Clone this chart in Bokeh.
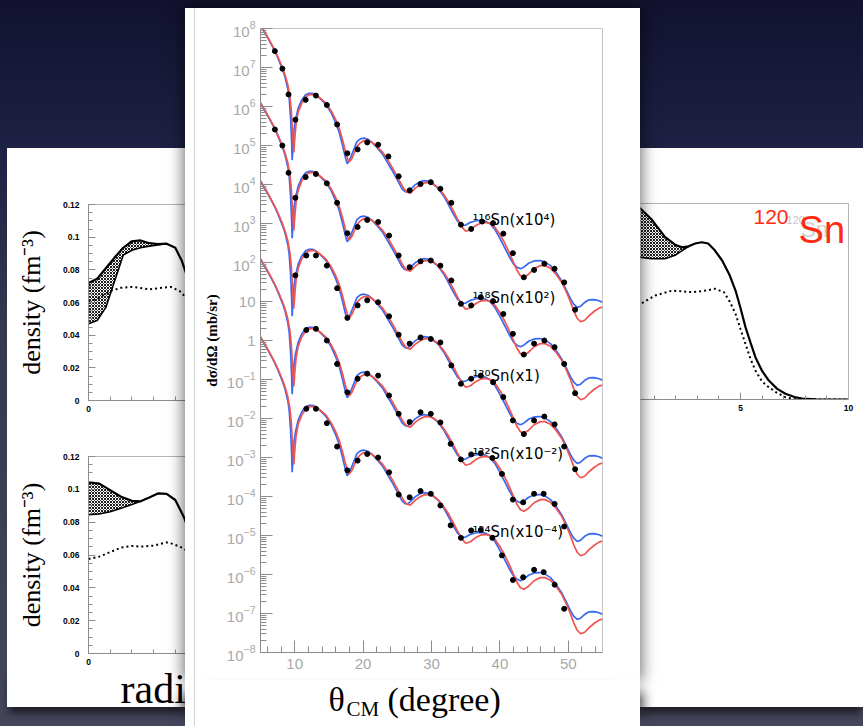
from bokeh.plotting import figure
from bokeh.models import GridBox, Range1d, FixedTicker, LogTickFormatter, Label, LinearAxis
from bokeh.core.properties import value
from bokeh.embed import file_html
from bokeh.resources import INLINE

# ---------------- central panel: elastic cross sections (log10 of dσ/dΩ, unscaled, mb/sr) -------------
isotope_labels = ["¹¹⁶Sn(x10⁴)", "¹¹⁸Sn(x10²)", "¹²⁰Sn(x1)", "¹²²Sn(x10⁻²)", "¹²⁴Sn(x10⁻⁴)"]
scale_factors = [1e4, 1e2, 1.0, 1e-2, 1e-4]
label_theta = 36.0
label_rel = 0.1

theta_blue = [5.0, 5.5, 6.0, 6.5, 7.1, 7.6, 8.2, 8.6, 9.0, 9.2, 9.4, 9.55, 9.63, 9.75, 9.9, 10.12, 10.5, 11.0,
              11.6, 12.1, 12.6, 13.0, 13.6, 14.5, 15.3, 16.0, 16.5, 17.0, 17.4, 17.68, 18.0, 18.4, 19.1, 19.6,
              20.1, 20.7, 21.3, 22.0, 22.8, 23.5, 24.25, 25.0, 25.7, 26.1, 26.45, 26.9, 27.6, 28.3, 28.9, 29.6,
              30.3, 31.0, 31.8, 32.5, 33.2, 33.8, 34.5, 35.0, 35.7, 36.5, 37.2, 37.9, 38.6, 39.3, 40.0, 40.7,
              41.4, 42.0, 42.5, 43.0, 43.5, 44.2, 45.0, 45.9, 46.6, 47.4, 48.2, 49.0, 49.7, 50.3, 50.8, 51.3,
              51.8, 52.4, 53.0, 53.8, 54.5, 55.0]
log_blue = [4.08, 3.92, 3.78, 3.62, 3.42, 3.22, 2.96, 2.75, 2.45, 2.20, 1.70, 1.10, 0.62, 1.00, 1.40, 1.66, 1.95,
            2.16, 2.30, 2.34, 2.34, 2.31, 2.22, 2.07, 1.85, 1.58, 1.34, 1.00, 0.70, 0.53, 0.62, 0.79, 1.10, 1.17,
            1.19, 1.16, 1.08, 0.95, 0.79, 0.58, 0.36, 0.12, -0.11, -0.18, -0.20, -0.13, -0.01, 0.07, 0.10, 0.08,
            0.00, -0.10, -0.30, -0.52, -0.76, -0.94, -1.05, -1.04, -0.97, -0.93, -0.92, -0.94, -1.01, -1.16,
            -1.38, -1.62, -1.86, -2.04, -2.12, -2.16, -2.12, -2.02, -1.96, -1.95, -1.99, -2.08, -2.25, -2.46,
            -2.70, -2.92, -3.07, -3.15, -3.12, -3.02, -2.96, -2.95, -2.98, -3.02]

theta_red = [5.0, 5.5, 6.0, 6.5, 7.1, 7.6, 8.2, 8.6, 9.0, 9.3, 9.5, 9.7, 9.87, 10.0, 10.2, 10.5, 11.0, 11.6, 12.1,
             12.6, 13.0, 13.6, 14.5, 15.3, 16.0, 16.5, 17.0, 17.4, 17.8, 18.0, 18.4, 19.1, 19.6, 20.1, 20.7, 21.3,
             22.0, 22.8, 23.5, 24.25, 25.0, 25.7, 26.1, 26.45, 26.9, 27.6, 28.3, 28.9, 29.6, 30.3, 31.0, 31.8,
             32.5, 33.2, 33.8, 34.5, 35.0, 35.7, 36.5, 37.2, 37.9, 38.6, 39.3, 40.0, 40.7, 41.4, 42.0, 42.5,
             43.0, 43.5, 44.2, 45.0, 45.9, 46.6, 47.4, 48.2, 49.0, 49.7, 50.3, 50.8, 51.3, 51.8, 52.4, 53.0,
             53.8, 54.5, 55.0]
log_red = [4.10, 3.95, 3.80, 3.64, 3.44, 3.25, 3.00, 2.80, 2.55, 2.25, 1.90, 1.30, 0.82, 1.15, 1.55, 1.85, 2.08,
           2.24, 2.30, 2.31, 2.30, 2.23, 2.10, 1.90, 1.66, 1.44, 1.14, 0.86, 0.62, 0.58, 0.68, 0.97, 1.07, 1.12,
           1.13, 1.08, 0.98, 0.84, 0.66, 0.44, 0.20, -0.03, -0.14, -0.20, -0.22, -0.10, -0.01, 0.04, 0.05, 0.01,
           -0.09, -0.26, -0.45, -0.68, -0.88, -1.10, -1.20, -1.16, -1.05, -0.99, -0.97, -1.00, -1.10, -1.28,
           -1.50, -1.76, -2.00, -2.20, -2.34, -2.38, -2.30, -2.16, -2.08, -2.08, -2.15, -2.30, -2.50, -2.75,
           -3.00, -3.24, -3.43, -3.52, -3.48, -3.37, -3.25, -3.17, -3.14]

theta_exp_116 = [7.1, 8.2, 9.1, 10.1, 11.6, 13.1, 14.7, 16.2, 17.7, 19.2, 20.6, 22.2, 23.7, 25.2, 26.8, 28.4, 29.9,
                 31.3, 32.9, 34.3, 35.8, 37.4, 39.0, 40.5, 41.9, 43.5, 45.0, 46.5, 48.0, 49.4, 51.0]
log_exp_116 = [3.42, 2.97, 2.31, 1.66, 2.17, 2.28, 2.04, 1.54, 0.80, 0.90, 1.08, 1.02, 0.72, 0.21, -0.15, 0.01, 0.06,
               -0.11, -0.47, -1.03, -1.14, -0.95, -0.99, -1.26, -1.76, -2.38, -2.19, -2.03, -2.16, -2.51, -3.21]
theta_exp_118 = [7.1, 8.2, 9.1, 10.1, 11.6, 13.1, 14.7, 16.2, 17.7, 19.2, 20.6, 22.2, 23.8, 25.2, 26.8, 28.4, 29.9,
                 31.3, 32.9, 34.3, 35.8, 37.2, 39.0, 40.5, 41.9, 43.5, 45.0, 46.5, 48.0, 49.4, 51.0]
log_exp_118 = [3.41, 3.00, 2.30, 1.66, 2.19, 2.27, 2.03, 1.53, 0.75, 0.91, 1.09, 1.04, 0.69, 0.18, -0.12, 0.03, 0.05,
               -0.08, -0.46, -1.06, -1.10, -0.89, -0.99, -1.32, -1.83, -2.36, -2.08, -2.00, -2.17, -2.60, -3.35]
theta_exp_120 = [10.1, 11.7, 13.1, 14.7, 16.2, 17.7, 19.2, 20.6, 22.2, 23.8, 25.2, 26.8, 28.4, 29.9, 31.3, 32.9,
                 34.3, 35.8, 37.2, 39.0, 40.5, 41.9, 43.5, 45.0, 46.5, 48.0, 49.4, 51.0]
log_exp_120 = [1.67, 2.18, 2.18, 1.92, 1.34, 0.58, 0.90, 1.03, 0.98, 0.62, 0.15, -0.08, 0.08, 0.04, -0.05, -0.64,
               -1.11, -0.98, -0.90, -1.07, -1.45, -2.05, -2.40, -2.05, -1.95, -2.15, -2.72, -3.30]
theta_exp_122 = [11.7, 13.1, 14.7, 16.2, 17.7, 19.2, 20.6, 22.2, 23.8, 25.2, 26.8, 28.4, 29.9, 31.3, 32.8, 34.3,
                 35.8, 37.2, 38.9, 40.3, 41.9, 43.4, 45.0, 46.4, 48.0, 49.4]
log_exp_122 = [2.27, 2.30, 2.00, 1.40, 0.67, 1.02, 1.15, 1.10, 0.59, 0.12, -0.09, 0.16, 0.12, -0.10, -0.65, -1.05,
               -0.92, -0.89, -1.01, -1.42, -2.08, -2.15, -1.93, -1.93, -2.19, -2.77]
theta_exp_124 = [11.7, 13.1, 14.7, 16.2, 17.7, 19.2, 20.6, 22.2, 23.8, 25.2, 26.8, 28.4, 29.9, 31.3, 32.8, 34.3,
                 35.8, 37.2, 38.9, 40.3, 41.9, 43.4, 45.0, 46.4, 48.0, 49.4]
log_exp_124 = [2.25, 2.25, 1.88, 1.28, 0.67, 0.92, 1.09, 1.00, 0.62, 0.05, -0.02, 0.14, 0.07, -0.23, -0.74, -1.06,
               -0.87, -0.86, -1.06, -1.51, -2.14, -2.07, -1.88, -1.94, -2.26, -2.88]

exp_theta_sets = [theta_exp_116, theta_exp_118, theta_exp_120, theta_exp_122, theta_exp_124]
exp_log_sets = [log_exp_116, log_exp_118, log_exp_120, log_exp_122, log_exp_124]

# ---------------- density panels (fm^-3 vs radius fm) ----------------
dens_a_x = [0.0, 0.4, 0.8, 1.2, 1.6, 2.0, 2.4, 2.8, 3.2, 3.6, 4.0, 4.3, 4.6, 5.0]
dens_a_upper = [0.072, 0.0745, 0.081, 0.0875, 0.0935, 0.0975, 0.098, 0.0963, 0.0957, 0.096, 0.0935, 0.0855, 0.074, 0.056]
dens_a_lower = [0.047, 0.049, 0.057, 0.073, 0.089, 0.092, 0.0935, 0.0945, 0.0952, 0.096]
dens_a_dot_x = [0.0, 0.5, 1.0, 1.5, 2.0, 2.4, 2.8, 3.3, 3.8, 4.2, 4.5, 5.0]
dens_a_dot = [0.0603, 0.063, 0.067, 0.069, 0.0695, 0.0689, 0.068, 0.0689, 0.0695, 0.067, 0.063, 0.054]

dens_b_x = [0.0, 0.5, 1.0, 1.5, 2.0, 2.4, 2.8, 3.2, 3.6, 4.0, 4.4, 4.7, 5.0]
dens_b_upper = [0.1043, 0.1035, 0.0995, 0.0955, 0.093, 0.0927, 0.095, 0.0975, 0.0972, 0.0935, 0.083, 0.072, 0.058]
dens_b_lower = [0.0846, 0.085, 0.0863, 0.0885, 0.0908, 0.0927]
dens_b_dot_x = [0.0, 0.5, 1.0, 1.5, 2.0, 2.4, 3.0, 3.6, 3.9, 4.4, 5.0]
dens_b_dot = [0.0576, 0.059, 0.0618, 0.0645, 0.0655, 0.0651, 0.0657, 0.0677, 0.0667, 0.064, 0.057]

dens_c_x = [0.0, 0.4, 0.9, 1.5, 2.0, 2.3, 2.6, 2.9, 3.2, 3.5, 3.8, 4.15, 4.5, 4.77, 5.0, 5.23, 5.46, 5.69, 6.0,
            6.31, 6.7, 7.08, 7.5, 7.86, 8.5, 9.0, 10.0]
dens_c_upper = [0.121, 0.1165, 0.110, 0.0996, 0.0945, 0.0932, 0.0938, 0.0955, 0.0963, 0.0955, 0.0915, 0.0851, 0.076,
                0.0667, 0.056, 0.0443, 0.035, 0.0259, 0.0175, 0.0116, 0.0065, 0.0035, 0.0015, 0.0006, 0.0001, 0.0, 0.0]
dens_c_lower = [0.087, 0.087, 0.0862, 0.0862, 0.0885, 0.0912, 0.0938]
dens_c_dot_x = [0.0, 0.37, 1.06, 1.84, 2.76, 3.3, 3.84, 4.23, 4.5, 4.77, 5.0, 5.23, 5.46, 5.69, 6.0, 6.31, 6.7,
                7.08, 7.5, 8.0, 10.0]
dens_c_dot = [0.057, 0.0586, 0.0637, 0.0667, 0.0657, 0.0665, 0.0678, 0.0657, 0.060, 0.0525, 0.043, 0.0341, 0.025,
              0.0178, 0.011, 0.0075, 0.004, 0.0014, 0.0003, 0.0, 0.0]

density_ticks = [0.0, 0.02, 0.04, 0.06, 0.08, 0.1, 0.12]
density_tick_labels = ["0", "0.02", "0.04", "0.06", "0.08", "0.1", "0.12"]
radius_ticks = [0, 5, 10]

BLUE = "#3a68f0"
RED = "#ef5450"
AXIS_GREY = "#8c8c8c"
FRAME_GREY = "#b4b4b4"


def border_axis(p, place):
    ax = LinearAxis(ticker=FixedTicker(ticks=[]), axis_line_color=FRAME_GREY, major_tick_line_color=None,
                    minor_tick_line_color=None, major_label_text_font_size="0px", major_label_standoff=0)
    p.add_layout(ax, place)


def density_panel(width, height, borders, x_span, xs, upper, lower, dot_x, dot_y, ylabel, with_yaxis=True):
    left, right, top, bottom = borders
    p = figure(width=width, height=height, x_range=Range1d(*x_span), y_range=Range1d(0, 0.12),
               output_backend="svg", toolbar_location=None, frame_align=False,
               y_axis_location="left" if with_yaxis else None,
               min_border_left=left, min_border_right=right, min_border_top=top, min_border_bottom=bottom,
               background_fill_color="white", border_fill_color="white", outline_line_color=None)
    p.xgrid.visible = False
    p.ygrid.visible = False
    p.xaxis.ticker = FixedTicker(ticks=radius_ticks, minor_ticks=list(range(0, 11)))
    axes = [p.xaxis[0]]
    if with_yaxis:
        p.yaxis.ticker = FixedTicker(ticks=density_ticks, minor_ticks=[i * 0.005 for i in range(25)])
        p.yaxis.major_label_overrides = dict(zip(density_ticks, density_tick_labels))
        axes.append(p.yaxis[0])
    for ax in axes:
        ax.axis_line_color = AXIS_GREY
        ax.major_tick_line_color = AXIS_GREY
        ax.minor_tick_line_color = AXIS_GREY
        ax.major_tick_in = 7
        ax.major_tick_out = 0
        ax.minor_tick_in = 4
        ax.minor_tick_out = 0
        ax.major_label_text_font = "Liberation Sans"
        ax.major_label_text_font_style = "bold"
        ax.major_label_text_font_size = "8.5px"
        ax.major_label_text_color = "black"
    p.xaxis[0].major_label_standoff = 5
    if with_yaxis:
        p.yaxis.major_label_standoff = 9
        p.yaxis.axis_label = ylabel
        p.yaxis.axis_label_text_font = "Liberation Serif"
        p.yaxis.axis_label_text_font_style = "normal"
        p.yaxis.axis_label_text_font_size = "26px"
        p.yaxis.axis_label_text_color = "black"
        p.yaxis.axis_label_standoff = 14
    border_axis(p, "above")
    n = len(lower)
    p.varea(x=xs[:n], y1=lower, y2=upper[:n], fill_color="white",
            hatch_pattern="x", hatch_scale=3, hatch_color="#1e1e1e", hatch_weight=1.0)
    p.line(xs, upper, line_color="black", line_width=2.2)
    p.line(xs[:n], lower, line_color="black", line_width=1.6)
    p.line(dot_x, dot_y, line_color="black", line_width=2, line_dash="2 3")
    return p


def text_strip(width, height, labels, fill):
    s = figure(width=width, height=height, x_range=Range1d(0, width), y_range=Range1d(0, height),
               output_backend="svg", toolbar_location=None, frame_align=False,
               x_axis_location=None, y_axis_location=None,
               min_border=0, min_border_left=0, min_border_right=0, min_border_top=0, min_border_bottom=0,
               background_fill_color=fill, border_fill_color=fill, outline_line_color=None)
    s.xgrid.visible = False
    s.ygrid.visible = False
    for (x, y, txt, size) in labels:
        s.add_layout(Label(x=x, y=y, text=txt, text_font="Liberation Serif", text_font_size=size,
                           text_color="black", text_baseline="alphabetic"))
    return s


SEAM = "0 3px 0 0 #ffffff"

# left card: two density panels (partly hidden behind the central card)
pa = density_panel(178, 280, (81, 0, 56, 28), (0, 4.47), dens_a_x, dens_a_upper, dens_a_lower,
                   dens_a_dot_x, dens_a_dot, "density (fm⁻³)")
pa.styles = {"background": "#ffffff", "box-shadow": SEAM}
pb = density_panel(178, 242, (81, 0, 28, 17), (0, 4.47), dens_b_x, dens_b_upper, dens_b_lower,
                   dens_b_dot_x, dens_b_dot, "density (fm⁻³)")
pb.styles = {"background": "#ffffff", "box-shadow": SEAM}
sb = text_strip(178, 37, [(113, 19, "radius (fm)", "42px")], "white")
sb.styles = {"background": "#ffffff", "box-shadow": "0 8px 8px -2px rgba(0,0,0,0.6)"}

# right card: 120Sn density
pc = density_panel(223, 559, (0, 15, 55, 308), (0.37, 10), dens_c_x, dens_c_upper, dens_c_lower,
                   dens_c_dot_x, dens_c_dot, None, with_yaxis=False)
border_axis(pc, "right")
pc.xaxis[0].major_label_text_font_size = "10px"
pc.add_layout(Label(x=7.13, y=0.1101, text="120", text_font="Liberation Sans", text_font_size="11px",
                    text_color="#c8c8c8", text_baseline="alphabetic"))
pc.add_layout(Label(x=7.8, y=0.1039, text="Sn", text_font="Liberation Sans", text_font_size="22px",
                    text_color="#d0d0d0", text_baseline="alphabetic"))
pc.add_layout(Label(x=5.6, y=0.1120, text="120", text_font="Liberation Sans", text_font_size="21px",
                    text_color="#ff2a12", text_baseline="alphabetic"))
pc.add_layout(Label(x=7.69, y=0.1040, text="Sn", text_font="Liberation Sans", text_font_size="38px",
                    text_color="#ff2a12", text_baseline="alphabetic"))
pc.styles = {"background": "#ffffff", "box-shadow": "0 8px 8px -2px rgba(0,0,0,0.6)"}

# ---------------- central figure ----------------
pm = figure(width=455, height=672, x_range=Range1d(5, 55), y_range=Range1d(1e-8, 1e8), y_axis_type="log",
            output_backend="svg", toolbar_location=None, frame_align=False,
            min_border_left=75, min_border_right=38, min_border_top=20, min_border_bottom=28,
            border_fill_color=None, background_fill_color="white", outline_line_color="#c4c4c4")
pm.xgrid.visible = False
pm.ygrid.visible = False
pm.xaxis.ticker = FixedTicker(ticks=[10, 20, 30, 40, 50], minor_ticks=[t for t in range(6, 55, 2) if t % 10])
pm.yaxis.ticker = FixedTicker(ticks=[10.0 ** e for e in range(-8, 9)],
                              minor_ticks=[m * 10.0 ** e for e in range(-8, 8) for m in range(2, 10)])
pm.yaxis.formatter = LogTickFormatter()
pm.yaxis.major_label_overrides = {1.0: "1", 10.0: "10"}
for ax in (pm.xaxis[0], pm.yaxis[0]):
    ax.axis_line_color = AXIS_GREY
    ax.major_tick_line_color = AXIS_GREY
    ax.minor_tick_line_color = AXIS_GREY
    ax.major_tick_in = 12
    ax.major_tick_out = 0
    ax.minor_tick_in = 6
    ax.minor_tick_out = 0
    ax.major_label_text_font = "Liberation Sans"
    ax.major_label_text_font_size = "15px"
    ax.major_label_text_color = "#a9a9a9"
pm.yaxis.major_label_standoff = 5
pm.xaxis.major_label_standoff = 6
pm.yaxis.axis_label = "dσ/dΩ (mb/sr)"
pm.yaxis.axis_label_text_font = "Liberation Serif"
pm.yaxis.axis_label_text_font_style = "bold"
pm.yaxis.axis_label_text_font_size = "15px"
pm.yaxis.axis_label_text_color = "black"
pm.yaxis.axis_label_standoff = 4

pm.text(x=[label_theta] * len(scale_factors), y=[s * label_rel for s in scale_factors], text=isotope_labels,
        text_font=value("DejaVu Sans"), text_font_size="15px", text_color="black",
        text_baseline="alphabetic", text_align="left", y_offset=-4)

for s, th_exp, lg_exp in zip(scale_factors, exp_theta_sets, exp_log_sets):
    pm.line(theta_blue, [10 ** v * s for v in log_blue], line_color=BLUE, line_width=1.7)
    pm.line(theta_red, [10 ** v * s for v in log_red], line_color=RED, line_width=1.7)
    pm.scatter(th_exp, [10 ** v * s for v in lg_exp], size=5, color="black")

card_line = "linear-gradient(90deg, #ffffff 9px, #d2d2d2 9px, #d2d2d2 10px, #ffffff 10px)"
pm.styles = {"box-shadow": SEAM + ", 0 0 14px 2px rgba(0,0,0,0.55)", "background": card_line}

sm = text_strip(455, 46, [(143, 27, "θ", "34px"), (161, 18, "CM", "21px"), (202, 27, "(degree)", "34px")], None)
sm.styles = {"box-shadow": "-15px 0 12px -12px rgba(0,0,0,0.75), 15px 0 12px -12px rgba(0,0,0,0.75)",
             "background": card_line}

layout = GridBox(
    children=[(pa, 2, 1, 1, 1), (pb, 3, 1, 1, 1), (sb, 4, 1, 2, 1), (pc, 2, 3, 4, 1),
              (pm, 1, 2, 4, 1), (sm, 5, 2, 2, 1)],
    rows=["8px", "140px", "280px", "242px", "10px", "27px", "19px"],
    cols=["7px", "178px", "455px", "223px"],
    width=863, height=726,
    styles={"background": "linear-gradient(180deg, #121230 0px, #1d2143 150px, #35384f 330px, #45465a 726px)"},
)

open("out.html", "w").write(file_html(layout, INLINE, title="Sn elastic scattering"))
